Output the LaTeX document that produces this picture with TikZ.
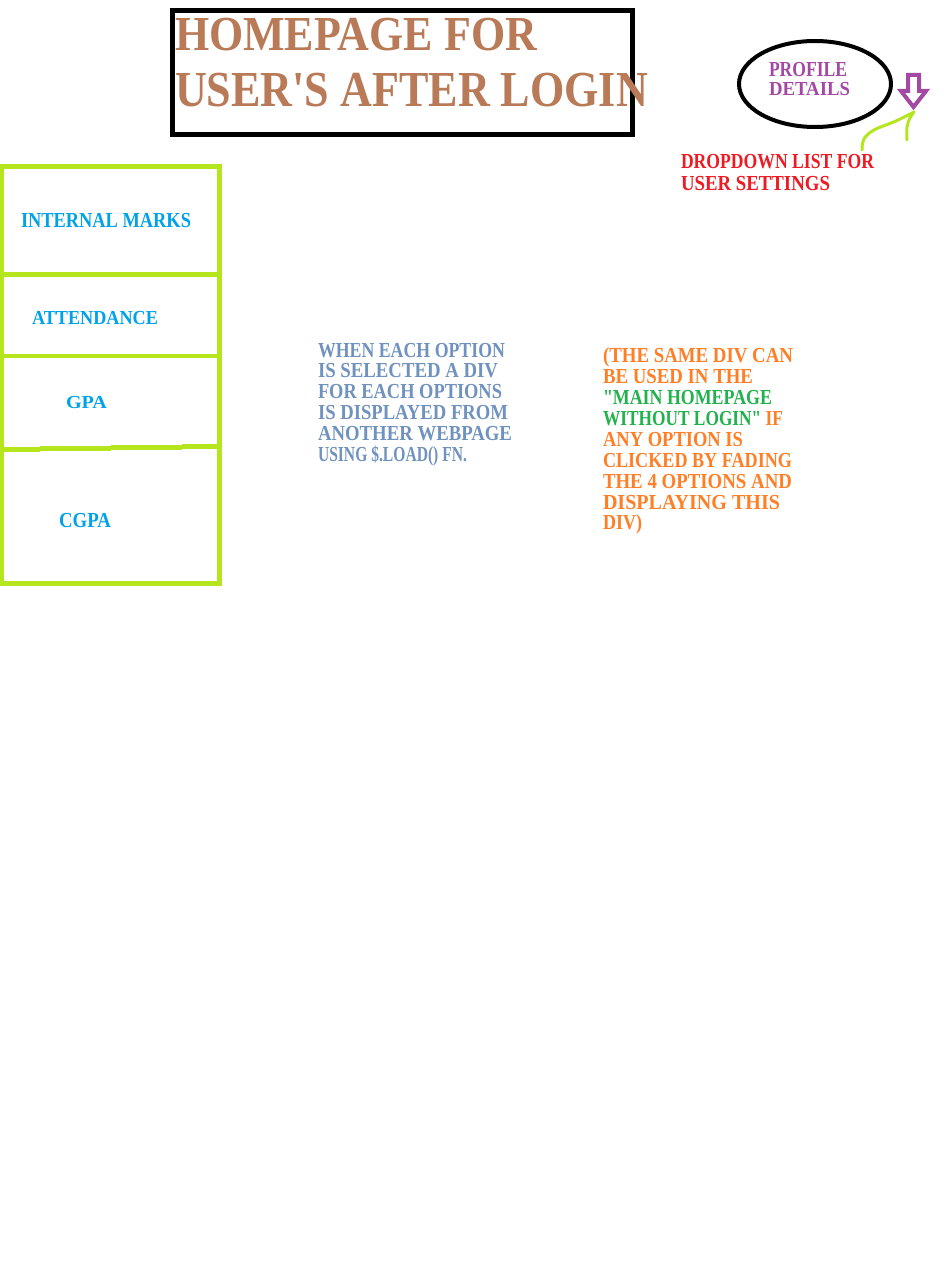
\documentclass[tikz,border=0pt]{standalone}
\usepackage{fontspec}
\setmainfont{Liberation Serif}[Ligatures=TeXOff]
\usepackage{graphicx}
\definecolor{titlec}{HTML}{B97A57}
\definecolor{purplec}{HTML}{A349A4}
\definecolor{redc}{HTML}{ED1C24}
\definecolor{limec}{HTML}{B5E61D}
\definecolor{bluec}{HTML}{00A2E8}
\definecolor{steelc}{HTML}{7092BE}
\definecolor{orangec}{HTML}{FF7F27}
\definecolor{greenc}{HTML}{22B14C}
\tikzset{
  lbl/.style={anchor=base west, inner sep=0pt, outer sep=0pt, font=\bfseries},
  menuline/.style={draw=limec, line width=4.5pt},
  scribble/.style={draw=limec, line width=3pt, line cap=round, line join=round},
}
\newlength\fitwd
\newlength\fitht
\newcommand{\fitt}[3]{%
  \settowidth{\fitwd}{#3}\settoheight{\fitht}{H}%
  \pgfmathsetmacro\fitxs{#1/\fitwd}%
  \pgfmathsetmacro\fitys{#2/\fitht}%
  \scalebox{\fitxs}[\fitys]{#3}}
\begin{document}
\begin{tikzpicture}[x=1pt,y=-1pt]
\fill[white] (0,0) rectangle (944,1268);
\useasboundingbox (0,0) rectangle (944,1268);

% title box
\draw[black, line width=5pt] (172,10.5) rectangle (632.5,134.5);
\node[lbl, text=titlec] (t1) at (175,51) {\fitt{362}{32}{HOMEPAGE FOR}};
\node[lbl, text=titlec] (t2) at (175,107) {\fitt{473}{33}{USER'S AFTER LOGIN}};

% profile ellipse
\draw[black, line width=4pt] (815,84) ellipse [x radius=76, y radius=43];
\node[lbl, text=purplec] (p1) at (769,77) {\fitt{78}{14}{PROFILE}};
\node[lbl, text=purplec] (p2) at (769,96) {\fitt{81}{13}{DETAILS}};

% dropdown arrow
\draw[purplec, line width=4pt, line join=miter] (908,75) -- (919,75) -- (919,91) -- (926,91) -- (913.5,107) -- (901,91) -- (908,91) -- cycle;
\draw[scribble] plot[smooth, tension=0.6] coordinates {(862,150) (864,139) (874,130) (896,121) (914,112)};
\draw[scribble] plot[smooth, tension=0.6] coordinates {(907,140) (907,127) (910,118) (914,112)};

\node[lbl, text=redc] (d1) at (681,169) {\fitt{193}{14}{DROPDOWN LIST FOR}};
\node[lbl, text=redc] (d2) at (681,190) {\fitt{149}{14}{USER SETTINGS}};

% left menu
\draw[menuline] (2,166.5) rectangle (219.5,583.5);
\draw[menuline] (2,274.5) -- (219.5,274.5);
\draw[menuline] (2,356) -- (219.5,356);
\draw[menuline] (2,449.5) -- (40,449.5);
\draw[menuline] (40,448.5) -- (111,448.5);
\draw[menuline] (111,447.5) -- (182,447.5);
\draw[menuline] (182,446.5) -- (219.5,446.5);

\node[lbl, text=bluec] (m1) at (21,227) {\fitt{170}{14}{INTERNAL MARKS}};
\node[lbl, text=bluec] (m2) at (32,324) {\fitt{126}{13}{ATTENDANCE}};
\node[lbl, text=bluec] (m3) at (66,408) {\fitt{41}{12}{GPA}};
\node[lbl, text=bluec] (m4) at (59,527) {\fitt{52}{14}{CGPA}};

% middle text
\node[lbl, text=steelc] (a1) at (318,357) {\fitt{187}{14}{WHEN EACH OPTION}};
\node[lbl, text=steelc] (a2) at (318,377.8) {\fitt{180}{14}{IS SELECTED A DIV}};
\node[lbl, text=steelc] (a3) at (318,398.6) {\fitt{184}{14}{FOR EACH OPTIONS}};
\node[lbl, text=steelc] (a4) at (318,419.4) {\fitt{190}{14}{IS DISPLAYED FROM}};
\node[lbl, text=steelc] (a5) at (318,440.2) {\fitt{194}{14}{ANOTHER WEBPAGE}};
\node[lbl, text=steelc] (a6) at (318,461) {\fitt{149}{14}{USING \$.LOAD() FN.}};

% right text
\node[lbl, text=orangec] (b1) at (603,362) {\fitt{190}{14}{(THE SAME DIV CAN}};
\node[lbl, text=orangec] (b2) at (603,383) {\fitt{150}{14}{BE USED IN THE}};
\node[lbl, text=greenc]  (b3) at (603,404) {\fitt{169}{14}{"MAIN HOMEPAGE}};
\node[lbl, text=orangec] (b4) at (603,425) {\fitt{180}{14}{{\color{greenc}WITHOUT LOGIN"} IF}};
\node[lbl, text=orangec] (b5) at (603,446) {\fitt{140}{14}{ANY OPTION IS}};
\node[lbl, text=orangec] (b6) at (603,467) {\fitt{189}{14}{CLICKED BY FADING}};
\node[lbl, text=orangec] (b7) at (603,488) {\fitt{189}{14}{THE 4 OPTIONS AND}};
\node[lbl, text=orangec] (b8) at (603,509) {\fitt{177}{14}{DISPLAYING THIS}};
\node[lbl, text=orangec] (b9) at (603,529) {\fitt{39}{14}{DIV)}};
\end{tikzpicture}
\end{document}
